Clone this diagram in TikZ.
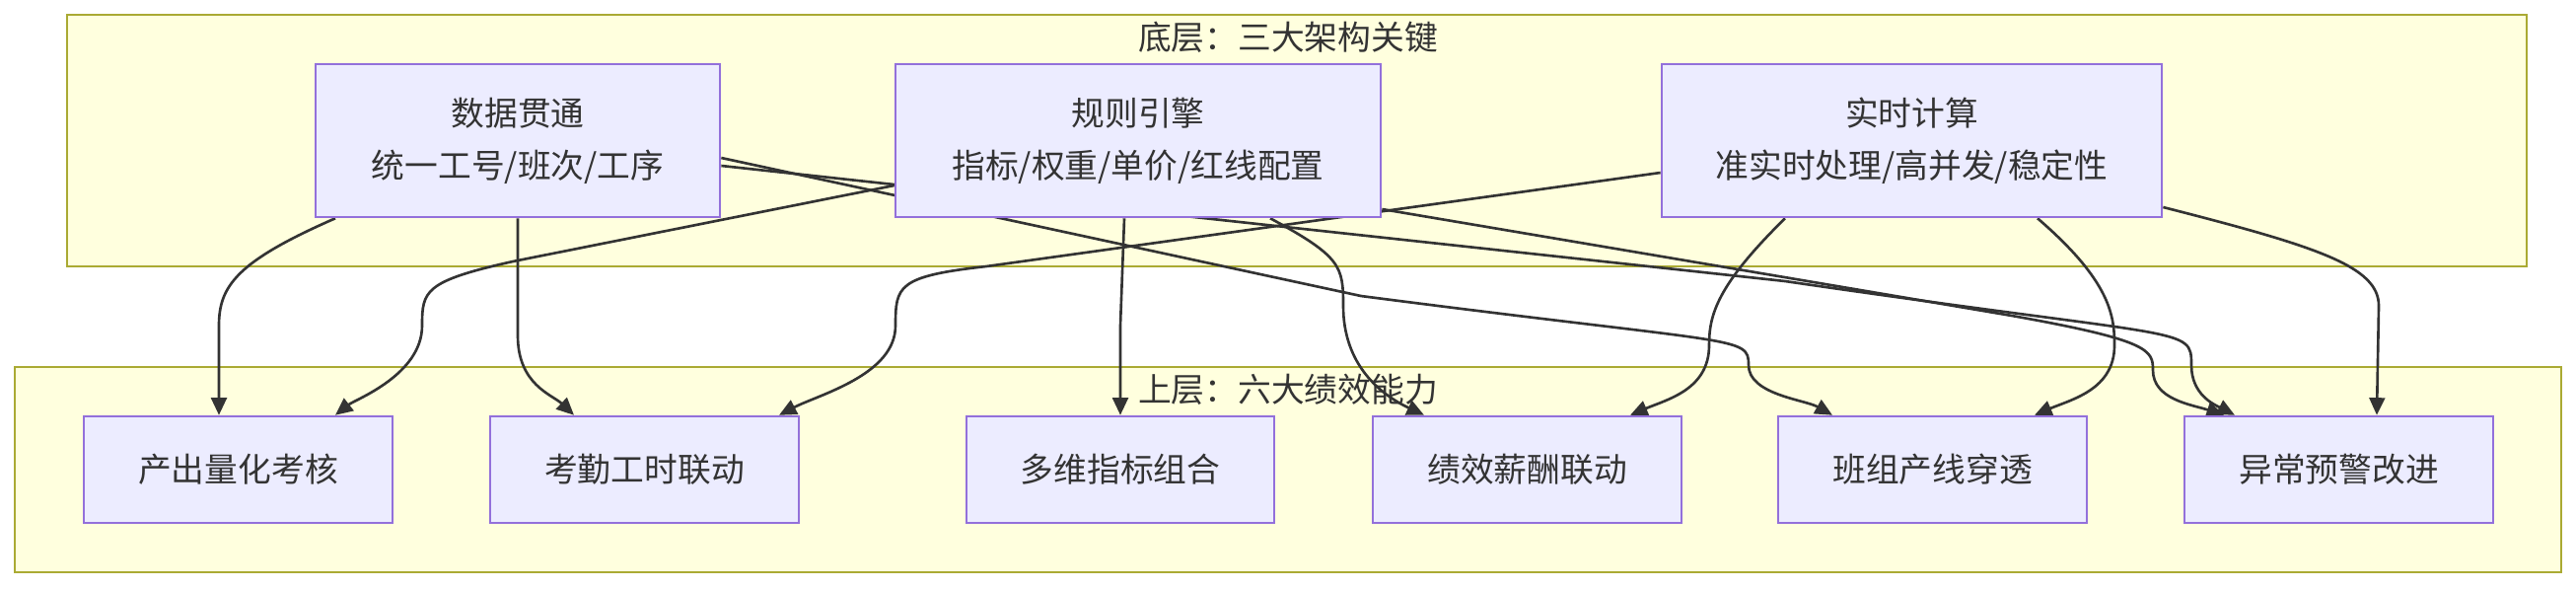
\documentclass[tikz,border=0pt]{standalone}
\usepackage{fontspec}
\setmainfont{Noto Sans CJK SC}
\usetikzlibrary{arrows.meta}
\definecolor{nfill}{HTML}{ECECFF}
\definecolor{ndraw}{HTML}{9370DB}
\definecolor{cfill}{HTML}{FFFFDE}
\definecolor{cdraw}{HTML}{AAAA33}
\definecolor{ln}{HTML}{333333}
\pgfdeclarelayer{bg}\pgfdeclarelayer{bgg}\pgfsetlayers{bgg,bg,main}
\begin{document}
\begin{tikzpicture}[x=0.01cm,y=-0.01cm,
  box/.style={draw=ndraw,fill=nfill,line width=0.7pt,inner sep=0pt,align=center,font=\fontsize{9.6}{15}\selectfont,text=ln},
  clu/.style={draw=cdraw,fill=cfill,line width=0.7pt},
  ttl/.style={font=\fontsize{9.6}{11}\selectfont,text=ln},
  e/.style={draw=ln,line width=0.75pt,-{Triangle[length=5pt,width=4.5pt]}}]
\useasboundingbox (0,0) rectangle (2612,596);
\begin{pgfonlayer}{bgg}
\draw[clu] (68,15) rectangle (2562,270);
\draw[clu] (15,372) rectangle (2597,580);
\end{pgfonlayer}
\node[ttl] (t1) at (1306,38) {底层：三大架构关键};
% nodes
\node[box,minimum width=4.1cm,minimum height=1.55cm] (dt) at (525,142.5) {数据贯通\\统一工号/班次/工序};
\node[box,minimum width=4.92cm,minimum height=1.55cm] (gz) at (1154,142.5) {规则引擎\\指标/权重/单价/红线配置};
\node[box,minimum width=5.07cm,minimum height=1.55cm] (ss) at (1938.5,142.5) {实时计算\\准实时处理/高并发/稳定性};
\node[box,minimum width=3.13cm,minimum height=1.08cm] (b1) at (241.5,476) {产出量化考核};
\node[box,minimum width=3.13cm,minimum height=1.08cm] (b2) at (653.5,476) {考勤工时联动};
\node[box,minimum width=3.12cm,minimum height=1.08cm] (b3) at (1136,476) {多维指标组合};
\node[box,minimum width=3.13cm,minimum height=1.08cm] (b4) at (1548.5,476) {绩效薪酬联动};
\node[box,minimum width=3.13cm,minimum height=1.08cm] (b5) at (1959.5,476) {班组产线穿透};
\node[box,minimum width=3.13cm,minimum height=1.08cm] (b6) at (2371.5,476) {异常预警改进};
\begin{pgfonlayer}{bg}
\draw[e] (dt.south -| 340,0) .. controls (240,265) and (222,290) .. (222,330) -- (b1.north -| 222,0);
\draw[e] (dt.south -| 525,0) -- (525,340) .. controls (525,390) and (560,400) .. (b2.north -| 582,0);
\draw[e] (dt.east |- 0,160) -- (1380,300) .. controls (1765,350) and (1773,340) .. (1773,370) .. controls (1773,400) and (1830,405) .. (b5.north -| 1858,0);
\draw[e] (dt.east |- 0,168) -- (1810,285) .. controls (2220,345) and (2222,330) .. (2222,370) .. controls (2222,400) and (2245,410) .. (b6.north -| 2266,0);
\draw[e] (gz.west |- 0,188) -- (520,265) .. controls (430,285) and (428,295) .. (428,330) .. controls (428,380) and (360,405) .. (b1.north -| 340,0);
\draw[e] (gz.south -| 1140,0) -- (1136,330) -- (b3.north);
\draw[e] (gz.south -| 1288,0) .. controls (1360,260) and (1362,270) .. (1362,310) .. controls (1362,370) and (1400,400) .. (b4.north -| 1444,0);
\draw[e] (gz.east |- 0,212) -- (2040,320) .. controls (2180,345) and (2183,355) .. (2183,375) .. controls (2183,405) and (2222,410) .. (b6.north -| 2255,0);
\draw[e] (ss.west |- 0,175) -- (1000,270) .. controls (910,280) and (908,290) .. (908,330) .. controls (908,380) and (830,400) .. (b2.north -| 790,0);
\draw[e] (ss.south -| 1810,0) .. controls (1740,290) and (1733,320) .. (1733,350) .. controls (1733,395) and (1690,405) .. (b4.north -| 1653,0);
\draw[e] (ss.south -| 2066,0) .. controls (2140,285) and (2144,320) .. (2144,350) .. controls (2144,395) and (2100,405) .. (b5.north -| 2063,0);
\draw[e] (ss.east |- 0,210) .. controls (2350,250) and (2412,270) .. (2412,310) -- (b6.north -| 2410,0);
\end{pgfonlayer}
\node[ttl] (t2) at (1306,395) {上层：六大绩效能力};
\end{tikzpicture}
\end{document}
